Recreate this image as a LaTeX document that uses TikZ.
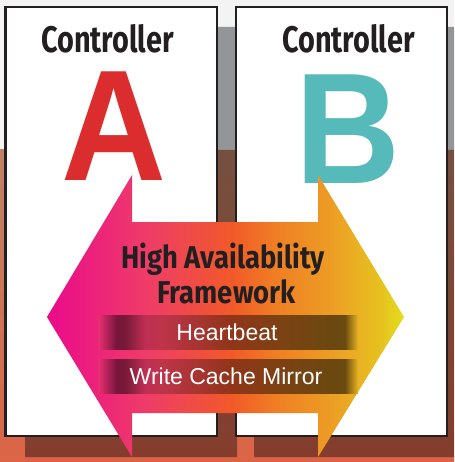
\documentclass[tikz,border=0pt]{standalone}
\usepackage{fontspec}
\usepackage{tikz}
\setmainfont{Liberation Sans}
\newfontfamily\condfont[FakeStretch=0.78]{Fira Sans}
\newfontfamily\hafont[FakeStretch=0.87]{Fira Sans}
\newfontfamily\letterfont[FakeStretch=0.92]{Liberation Sans}

\definecolor{bgLight}{HTML}{F2F3F2}
\definecolor{bgTan}{HTML}{BF8266}
\definecolor{bgOrange}{HTML}{DC6446}
\definecolor{shadowGray}{HTML}{939598}
\definecolor{shadowBrown}{HTML}{76503F}
\definecolor{shadowDeep}{HTML}{843D2D}
\definecolor{inkDark}{HTML}{231F20}
\definecolor{letterRed}{HTML}{DC2D2E}
\definecolor{letterTeal}{HTML}{56B9BA}
% arrow colours
\definecolor{haMag}{HTML}{EA0A8C}
\definecolor{haPink}{HTML}{EF3C68}
\definecolor{haOrange}{HTML}{F15A28}
\definecolor{haAmber}{HTML}{F07E24}
\definecolor{haGold}{HTML}{EC9E24}
\definecolor{haYellowA}{HTML}{E6C41F}
\definecolor{haYellow}{HTML}{E2DE1C}
% band colours
\definecolor{bandL}{HTML}{EC2F74}
\definecolor{bandDarkA}{HTML}{77163A}
\definecolor{bandDarkB}{HTML}{771938}
\definecolor{bandLightA}{HTML}{BF2F54}
\definecolor{bandLightB}{HTML}{BF344B}
\definecolor{bandMid}{HTML}{91351A}
\definecolor{bandMidR}{HTML}{7C4213}
\definecolor{bandDarkC}{HTML}{6A4810}
\definecolor{bandDarkD}{HTML}{6A4C10}
\definecolor{bandR}{HTML}{E9B121}

\pgfdeclarehorizontalshading{hashade}{100bp}{color(0bp)=(haMag); color(25bp)=(haMag); color(39bp)=(haPink); color(51bp)=(haOrange); color(57bp)=(haAmber); color(65bp)=(haGold); color(72bp)=(haYellowA); color(75bp)=(haYellow); color(100bp)=(haYellow)}
\pgfdeclarehorizontalshading{bandshade}{100bp}{color(0bp)=(bandL); color(25bp)=(bandL); color(28.6bp)=(bandDarkA); color(30.2bp)=(bandDarkB); color(34bp)=(bandLightA); color(37.1bp)=(bandLightB); color(50.4bp)=(bandMid); color(60bp)=(bandMidR); color(70.6bp)=(bandDarkC); color(72.5bp)=(bandDarkD); color(75bp)=(bandR); color(100bp)=(bandR)}

\tikzset{
    boxline/.style={draw=inkDark, line width=2.2pt, fill=white},
    ctrltitle/.style={font=\condfont\bfseries\fontsize{37}{40}\selectfont, text=inkDark, inner sep=0pt, anchor=base},
    bigletter/.style={font=\letterfont\bfseries\fontsize{158}{160}\selectfont, inner sep=0pt, anchor=base, text height=114pt, text depth=0pt},
    hatitle/.style={font=\hafont\bfseries\fontsize{31.5}{34}\selectfont, text=inkDark, inner sep=0pt, anchor=base},
    bandtext/.style={font=\fontsize{23}{26}\selectfont, text=white, inner sep=0pt, anchor=base}
}

\begin{document}
\begin{tikzpicture}[x=1pt, y=-1pt]
    \useasboundingbox (0,0) rectangle (454,462);
    % Draw the backdrop
    \fill[bgLight] (0,0) rectangle (454,462);
    \shade[top color=bgTan, bottom color=bgOrange] (0,150) rectangle (454,462);
    % Shadows behind the controllers
    \fill[shadowGray] (25,27) rectangle (237,150) (254,27) rectangle (454,150);
    \shade[top color=shadowBrown, bottom color=shadowDeep] (25,150) rectangle (237,457) (254,150) rectangle (454,457);
    % Controller boxes
    \draw[boxline] (5.5,7) rectangle (217,436);
    \draw[boxline] (236.3,7) rectangle (447,436);
    \node[ctrltitle] (titleA) at (107.5,52.3) {Controller};
    \node[ctrltitle] (titleB) at (348.5,52.3) {Controller};
    \node[bigletter, text=letterRed] (letterA) at (114,181) {A};
    \node[bigletter, text=letterTeal] (letterB) at (348,183) {B};
    % Double arrow
    \shade[shading=hashade] (132,175) -- (132,222) -- (318,222) -- (318,175) -- (404,317)
        -- (318,457) -- (318,413) -- (132,413) -- (132,457) -- (47,317) -- cycle;
    \node[hatitle] (haLine1) at (223,268.3) {High Availability};
    \node[hatitle] (haLine2) at (226.5,303) {Framework};
    % Bands
    \shade[shading=bandshade] (98,315) rectangle (358,349);
    \shade[shading=bandshade] (98,359) rectangle (358,393);
    \node[bandtext] (beat) at (227,340.7) {Heartbeat};
    \node[bandtext] (mirror) at (226,384.3) {Write Cache Mirror};
\end{tikzpicture}
\end{document}
